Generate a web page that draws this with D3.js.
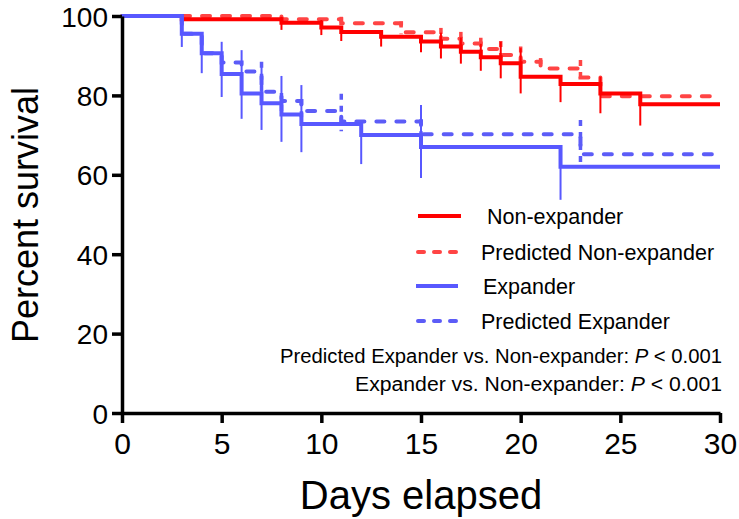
<!DOCTYPE html>
<html><head><meta charset="utf-8">
<script src="https://cdn.jsdelivr.net/npm/d3@7"></script>
<style>body{margin:0;background:#fff}svg{display:block}text{font-family:"Liberation Sans",Arial,sans-serif}</style>
</head><body><svg id="c" width="739" height="519"></svg>
<script>
// ---- data ----
const xTicks = [0,5,10,15,20,25,30];
const yTicks = [0,20,40,60,80,100];

const nonExpTimes = [0,3,8,10,11,13,15,16,17,18,19,20,22,24,26,30];
const nonExpSurv  = [100,99.2,98.3,97.1,96.0,94.8,93.6,92.3,91.0,89.6,88.1,84.7,82.9,80.5,77.8,77.8];
const nonExpErrT  = [8,10,11,13,15,16,17,18,19,20,22,24,26];
const nonExpErrHi = [99.8,99.0,97.3,95.6,94.4,95.8,94.6,93.0,93.5,91.9,84.7,84.7,80.5];
const nonExpErrLo = [96.5,95.2,93.7,92.3,90.9,89.3,88.0,86.2,84.3,80.5,78.3,75.5,72.4];

const predNonTimes = [0,8,11,14,16,17,18,19,20,21,23,24,30];
const predNonSurv  = [100,99.2,98.2,95.9,94.3,93.1,91.7,90.2,88.5,86.8,84.5,79.8,79.8];
const predNonErrT  = [11,14,16,17,18,19,20,21,23];
const predNonErrHi = [99.8,98.6,97.0,96.0,94.5,93.7,92.3,89.4,88.9];
const predNonErrLo = [97.8,95.4,94.0,93.0,91.4,89.4,88.5,86.8,84.4];

const expTimes = [0,3,4,5,6,7,8,9,12,15,22,30];
const expSurv  = [100,95.5,90.6,85.4,80.5,78.0,75.2,72.8,70.0,67.0,62.0,62.0];
const expErrT  = [3,4,5,6,7,8,9,12,15,22];
const expErrHi = [100,95.7,93.5,91.4,87.2,84.9,82.6,73.3,77.6,67.0];
const expErrLo = [92.2,85.6,79.6,74.1,71.3,68.3,65.7,62.7,59.2,53.7];

const predExpTimes = [0,3,4,5,6,7,8,9,11,15,23,30];
const predExpSurv  = [100,95.5,90.6,88.3,86.0,80.9,78.6,76.1,73.4,70.2,65.2,65.2];
const predExpErrT  = [7,8,9,11,15,23];
const predExpErrHi = [88.5,80.6,79.0,80.4,74.0,73.8];
const predExpErrLo = [80.9,76.0,74.5,71.0,67.0,63.0];

const legendLabels = ["Non-expander","Predicted Non-expander","Expander","Predicted Expander"];
const noteLabels = ["Predicted Expander vs. Non-expander: ","Expander vs. Non-expander: "];
const pText = " < 0.001";

// ---- drawing ----
const svg = d3.select("#c");
const x = d3.scaleLinear().domain([0,30]).range([122,720]);
const y = d3.scaleLinear().domain([0,100]).range([413,16]);

const RED="#ff0000", RED2="#ff4444", BLUE="#5858ff", BLUE2="#5c5cf7";
const DASH="8,12";

const series = [
  {t:predNonTimes,s:predNonSurv,et:predNonErrT,eh:predNonErrHi,el:predNonErrLo,c:RED2,dash:true},
  {t:nonExpTimes,s:nonExpSurv,et:nonExpErrT,eh:nonExpErrHi,el:nonExpErrLo,c:RED,dash:false},
  {t:predExpTimes,s:predExpSurv,et:predExpErrT,eh:predExpErrHi,el:predExpErrLo,c:BLUE2,dash:true},
  {t:expTimes,s:expSurv,et:expErrT,eh:expErrHi,el:expErrLo,c:BLUE,dash:false}
];
const line = d3.line().x(d=>x(d[0])).y(d=>y(d[1])).curve(d3.curveStepAfter);
const g = svg.append("g");
series.forEach(sr=>{
  const pts = sr.t.map((t,i)=>[t,sr.s[i]]);
  g.selectAll(null).data(sr.et.map((t,i)=>({t,h:sr.eh[i],l:sr.el[i]}))).enter().append("line")
    .attr("x1",d=>x(d.t)).attr("x2",d=>x(d.t)).attr("y1",d=>y(d.h)).attr("y2",d=>y(d.l))
    .attr("stroke",sr.c).attr("stroke-width",sr.dash?3.5:2)
    .attr("stroke-dasharray",sr.dash?"6,6":null);
  g.append("path").attr("d",line(pts)).attr("fill","none").attr("stroke",sr.c)
    .attr("stroke-width",4).attr("stroke-linecap",sr.dash?"round":"butt")
    .attr("stroke-dasharray",sr.dash?DASH:null);
});

// axes
const ax = svg.append("g").attr("transform","translate(0,413)")
  .call(d3.axisBottom(x).tickValues(xTicks).tickSize(10).tickSizeOuter(0).tickPadding(10));
const ay = svg.append("g").attr("transform","translate(122,0)")
  .call(d3.axisLeft(y).tickValues(yTicks).tickSize(10).tickSizeOuter(0).tickPadding(4));
[ax,ay].forEach(a=>{
  a.select(".domain").attr("stroke","#000").attr("stroke-width",3.5);
  a.selectAll(".tick line").attr("stroke","#000").attr("stroke-width",3.5);
  a.selectAll(".tick text").attr("fill","#000").style("font-family","'Liberation Sans',Arial,sans-serif");
});
ax.selectAll(".tick text").attr("dy","0.71em").style("font-size","30px");
ay.selectAll(".tick text").attr("dy","0.36em").style("font-size","28px");

svg.append("text").attr("x",421).attr("y",509).attr("text-anchor","middle")
  .style("font-size","40px").text("Days elapsed");
svg.append("text").attr("transform","translate(38,215) rotate(-90)").attr("text-anchor","middle")
  .style("font-size","36px").text("Percent survival");

// legend
const legStyles=[{c:RED,d:null,x1:418,x2:461},{c:RED2,d:"6,10",x1:418,x2:457},{c:BLUE,d:null,x1:416,x2:458},{c:BLUE2,d:"6,10",x1:418,x2:457}];
const legY=[216,252,286,321];
const legTX=[487,481,483,481];
legendLabels.forEach((lab,i)=>{
  const st=legStyles[i];
  svg.append("line").attr("x1",st.x1).attr("x2",st.x2).attr("y1",legY[i]).attr("y2",legY[i])
    .attr("stroke",st.c).attr("stroke-width",4).attr("stroke-dasharray",st.d)
    .attr("stroke-linecap",st.d?"round":"butt");
  svg.append("text").attr("x",legTX[i]).attr("y",legY[i]+7.5).style("font-size","21.5px").text(lab);
});

// annotations
const noteY=[363,391], noteW=[442,367];
noteLabels.forEach((lab,i)=>{
  const t=svg.append("text").attr("x",722-noteW[i]).attr("y",noteY[i]).style("font-size","20px")
    .attr("textLength",noteW[i]).attr("lengthAdjust","spacingAndGlyphs");
  t.append("tspan").text(lab);
  t.append("tspan").style("font-style","italic").text("P");
  t.append("tspan").text(pText);
});
</script></body></html>
